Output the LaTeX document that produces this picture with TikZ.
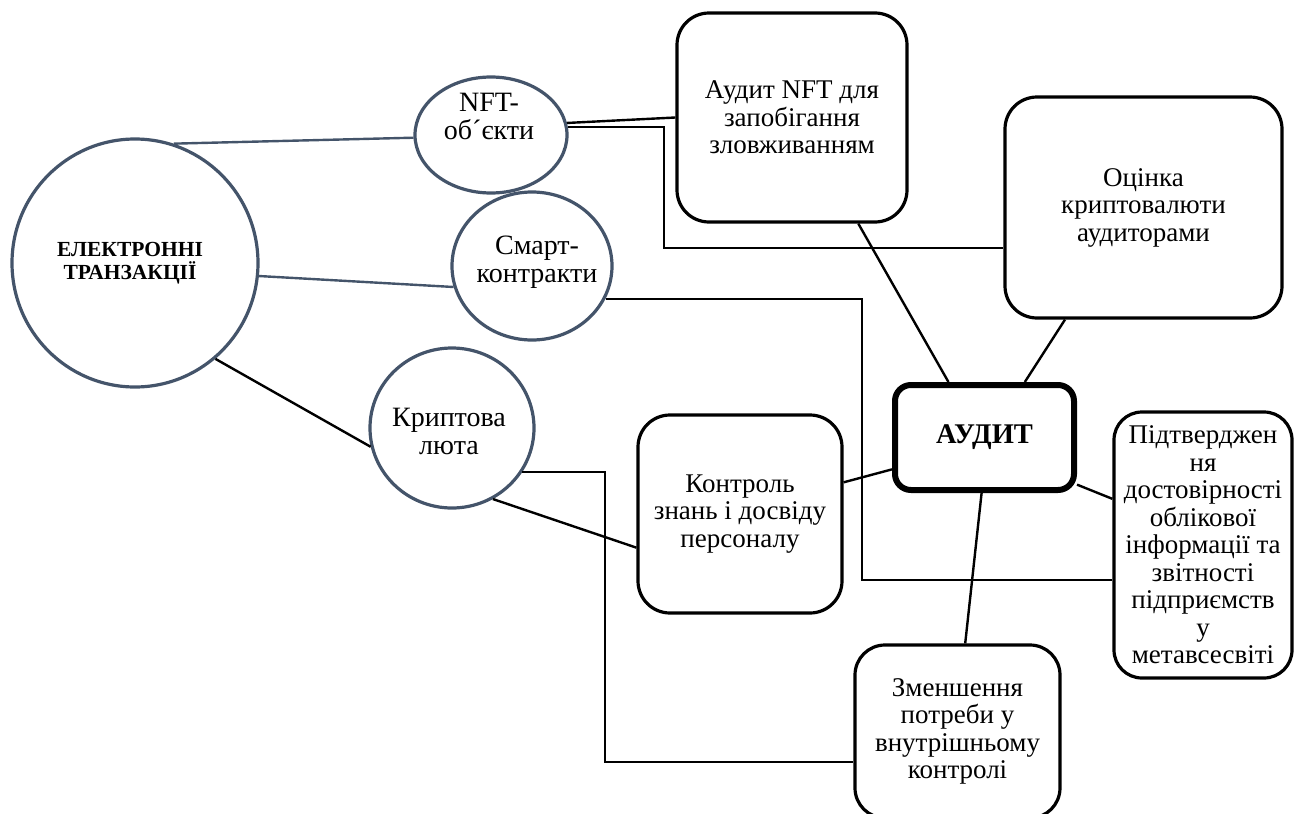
\documentclass[tikz,border=0pt]{standalone}
\usepackage{fontspec}
\setmainfont{Liberation Serif}
\usetikzlibrary{shapes.geometric}
\definecolor{slate}{HTML}{44546A}
\begin{document}
\begin{tikzpicture}[x=1pt,y=-1pt,
  circ/.style={draw=slate, line width=3.2pt, ellipse, inner sep=0pt, fill=white},
  ctext/.style={align=center, font=\fontsize{28}{28}\selectfont, inner sep=0pt},
  etext/.style={align=center, font=\fontsize{21.5}{22.5}\selectfont\bfseries, inner sep=0pt},
  box/.style={draw=black, line width=3.2pt, rounded corners=32pt, inner sep=0pt, align=center,
              font=\fontsize{27}{27.5}\selectfont, fill=white},
  aubox/.style={box, line width=6pt, rounded corners=16pt, font=\fontsize{28.5}{29}\selectfont\bfseries},
  conn/.style={draw=black, line width=2.4pt},
  sconn/.style={draw=slate, line width=2.4pt},
]
\useasboundingbox (0,0) rectangle (1294,814);

% circles
\node[circ, minimum width=246pt, minimum height=248pt] (E) at (135,263) {};
\node[etext] (Et) at (130,263) {ЕЛЕКТРОННІ\\ТРАНЗАКЦІЇ};
\node[circ, minimum width=152pt, minimum height=116pt] (NFT) at (491,135) {};
\node[ctext] (NFTt) at (489,116) {NFT-\\об´єкти};
\node[circ, minimum width=160pt, minimum height=148pt] (SC) at (532,266) {};
\node[ctext] (SCt) at (537,262) {Смарт-\\контракти};
\node[circ, minimum width=164pt, minimum height=160pt] (CR) at (452,428) {};
\node[ctext] (CRt) at (449,431) {Криптова\\люта};

% boxes
\node[box, minimum width=230pt, minimum height=209pt] (AN) at (792,117.5) {Аудит NFT для\\запобігання\\зловживанням};
\node[box, minimum width=277pt, minimum height=221pt] (OC) at (1143.5,207.5) {Оцінка\\криптовалюти\\аудиторами};
\node[aubox, minimum width=179pt, minimum height=105pt] (AU) at (984.5,437.5) {АУДИТ};
\node[box, rounded corners=28pt, minimum width=178pt, minimum height=266pt] (PD) at (1203,545)
  {Підтверджен\\ня\\достовірності\\облікової\\інформації та\\звітності\\підприємств\\у\\метавсесвіті};
\node[box, minimum width=204pt, minimum height=198pt] (KO) at (740,514) {Контроль\\знань і досвіду\\персоналу};
\node[box, rounded corners=30pt, minimum width=205pt, minimum height=173pt] (ZM) at (957.5,731.5) {Зменшення\\потреби у\\внутрішньому\\контролі};

% elbow coordinates
\coordinate (k1) at (664,248);
\coordinate (k2) at (605,762);
\coordinate (k3) at (862,580);

% connectors
\draw[sconn] (E.72) -- (NFT.182);
\draw[sconn] (E.-6) -- (SC.195);
\draw[conn] (E.-50) -- (CR.193);
\draw[conn] (NFT.9) -- (AN.west);
\draw[conn] (NFT.6) -| (k1) -- (k1 -| OC.west);
\draw[conn] (SC.-24) -| (k3) -- (k3 -| PD.west);
\draw[conn] (CR.-60) -- (KO.198);
\draw[conn] (CR.-32) -| (k2) -- (k2 -| ZM.west);
\draw[conn] (AN.-58) -- (AU.123);
\draw[conn] (OC.235) -- (AU.54);
\draw[conn] (KO.17) -- (AU.199);
\draw[conn] (AU.-27) -- (PD.153);
\draw[conn] (AU.-93) -- (ZM.85);
\end{tikzpicture}
\end{document}
